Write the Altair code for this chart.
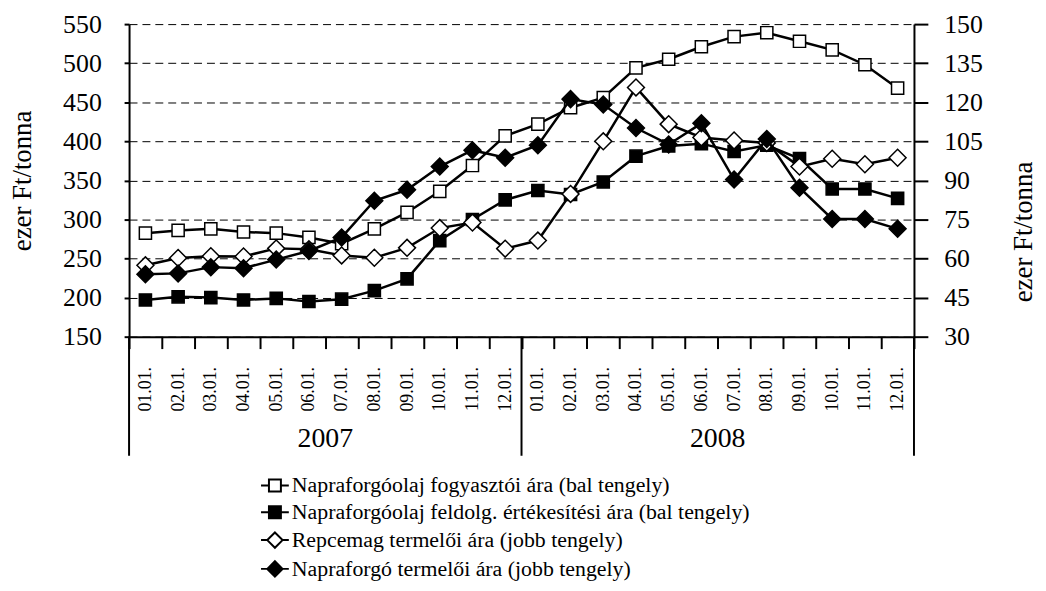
import altair as alt
import pandas as pd

FONT = "'Liberation Serif', 'Times New Roman', Times, serif"

years = ["2007", "2008"]
months = ["01.01.", "02.01.", "03.01.", "04.01.", "05.01.", "06.01.",
          "07.01.", "08.01.", "09.01.", "10.01.", "11.01.", "12.01."]
keys = [f"{y}|{m}" for y in years for m in months]

names = [
    "Napraforgóolaj fogyasztói ára (bal tengely)",
    "Napraforgóolaj feldolg. értékesítési ára (bal tengely)",
    "Repcemag termelői ára (jobb tengely)",
    "Napraforgó termelői ára (jobb tengely)",
]

# left axis (ezer Ft/tonna)
olaj_fogyasztoi = [282.5, 286, 288, 284, 282.5, 277, 269, 288, 309, 336, 369, 407,
                   422, 443, 456, 494, 505, 521, 534, 539, 528, 517, 498, 468]
olaj_feldolg = [197, 201, 200, 197, 199, 195, 198, 209, 224, 273, 300, 325,
                337, 332, 348, 381, 394, 397, 387, 395, 378, 339, 339, 327]
# right axis (ezer Ft/tonna)
repcemag = [57.4, 60.2, 60.9, 60.8, 63.9, 63.6, 61.2, 60.3, 64.1, 71.7, 73.8, 63.8,
            66.9, 84.8, 105.0, 125.7, 111.6, 106.5, 105.3, 104.4, 95.3, 98.3, 96.2, 98.7]
napraforgo = [54.0, 54.3, 56.7, 56.3, 59.6, 62.9, 68.1, 82.2, 86.4, 95.3, 101.6, 98.7,
              103.5, 121.2, 119.1, 110.1, 103.8, 111.9, 90.3, 105.9, 87.2, 75.2, 75.2, 71.4]

left_ticks = [150, 200, 250, 300, 350, 400, 450, 500, 550]
right_ticks = [30, 45, 60, 75, 90, 105, 120, 135, 150]

rows = []
for name, vals in zip(names, [olaj_fogyasztoi, olaj_feldolg, repcemag, napraforgo]):
    for k, v in zip(keys, vals):
        rows.append({"key": k, "series": name, "value": v})
df = pd.DataFrame(rows)

x_scale = alt.Scale(type="band", domain=keys, paddingInner=0, paddingOuter=0)
x_axis = alt.Axis(
    title=None, labelExpr="split(datum.label, '|')[1]", labelAngle=270,
    labelAlign="right", labelBaseline="middle", labelFont=FONT, labelFontSize=18,
    labelColor="black", labelPadding=18, labelOverlap=False, tickBand="extent",
    tickSize=12, tickColor="black", tickWidth=2, domainColor="black",
    domainWidth=2, grid=False,
)


def xenc(band=None):
    if band is None:
        return alt.X("key:N", scale=x_scale, axis=x_axis)
    return alt.X("key:N", scale=x_scale, axis=x_axis, bandPosition=band)


left_axis = alt.Axis(
    values=left_ticks, title="ezer Ft/tonna", titleFont=FONT, titleFontSize=27,
    titleFontWeight="normal", titleColor="black", titleAngle=270, titleX=-107,
    titleY=157.5, titleAlign="center", titleBaseline="middle",
    labelFont=FONT, labelFontSize=26, labelColor="black", labelPadding=23,
    tickSize=5, tickColor="black", tickWidth=2, domainColor="black", domainWidth=2,
    grid=True, gridColor="black", gridDash=[8, 5], gridWidth=1,
)
right_axis = alt.Axis(
    orient="right", values=right_ticks, title="ezer Ft/tonna", titleFont=FONT,
    titleFontSize=27, titleFontWeight="normal", titleColor="black", titleAngle=270,
    titleX=110, titleY=209, titleAlign="center", titleBaseline="middle",
    labelFont=FONT, labelFontSize=26, labelColor="black", labelPadding=16,
    tickSize=14, tickColor="black", tickWidth=2, domainColor="black", domainWidth=2,
    grid=False,
)


def series_layer(name, shape, fill, size, domain, axis):
    base = alt.Chart(df).transform_filter(alt.datum.series == name)
    y = alt.Y("value:Q", scale=alt.Scale(domain=domain, nice=False, zero=False), axis=axis)
    line = base.mark_line(color="black", strokeWidth=2.5).encode(x=xenc(), y=y)
    pts = base.mark_point(shape=shape, filled=True, fill=fill, stroke="black",
                          strokeWidth=1.5, size=size, opacity=1).encode(x=xenc(), y=y)
    return alt.layer(line, pts)


left = alt.layer(
    series_layer(names[0], "square", "white", 150, [150, 550], left_axis),
    series_layer(names[1], "square", "black", 150, [150, 550], left_axis),
)
right = alt.layer(
    series_layer(names[2], "diamond", "white", 290, [30, 150], right_axis),
    series_layer(names[3], "diamond", "black", 290, [30, 150], right_axis),
)

sep_df = pd.DataFrame({"key": [keys[0], keys[12]]})
end_df = pd.DataFrame({"key": [keys[-1]]})
yr_df = pd.DataFrame({"key": [keys[6], keys[18]], "year": years})

sep = alt.Chart(sep_df).mark_rule(color="black", strokeWidth=2).encode(
    x=xenc(0), y=alt.value(315), y2=alt.value(435))
sep_end = alt.Chart(end_df).mark_rule(color="black", strokeWidth=2).encode(
    x=xenc(1), y=alt.value(315), y2=alt.value(435))
yr_text = alt.Chart(yr_df).mark_text(font=FONT, fontSize=28, color="black",
                                     baseline="middle", align="center").encode(
    x=xenc(0), y=alt.value(418), text="year:N")

sq = "M-2,0H-0.86M0.86,0H2M-0.86,-0.86H0.86V0.86H-0.86Z"
dm = "M-2,0H-1.1M1.1,0H2M0,-1.1L1.1,0L0,1.1L-1.1,0Z"
legend = alt.Legend(
    title=None, orient="none", legendX=136, legendY=454, direction="vertical",
    symbolSize=196, symbolStrokeWidth=2, symbolStrokeColor="black",
    labelFont=FONT, labelFontSize=22, labelColor="black", labelOffset=6,
    rowPadding=5, labelLimit=800,
)
leg = alt.Chart(df).transform_filter("false").mark_point(
    filled=False, strokeWidth=2, opacity=1).encode(
    shape=alt.Shape("series:N", scale=alt.Scale(domain=names, range=[sq, sq, dm, dm]),
                    legend=legend),
    fill=alt.Fill("series:N", scale=alt.Scale(domain=names,
                                              range=["white", "black", "white", "black"]),
                  legend=legend),
    stroke=alt.Stroke("series:N", scale=alt.Scale(domain=names,
                                                  range=["black", "black", "black", "black"]),
                      legend=legend),
)

chart = alt.layer(left, right, sep, sep_end, yr_text, leg).resolve_scale(
    y="independent"
).properties(
    width=791, height=315,
    autosize=alt.AutoSizeParams(type="none"),
    padding={"left": 122, "top": 14, "right": 125, "bottom": 246},
    background="white",
).configure(
    font=FONT
).configure_axis(
    labelFont=FONT, titleFont=FONT
).configure_legend(
    labelFont=FONT
).configure_view(stroke=None)

chart.save("out.html", embed_options={"renderer": "svg", "actions": False})
